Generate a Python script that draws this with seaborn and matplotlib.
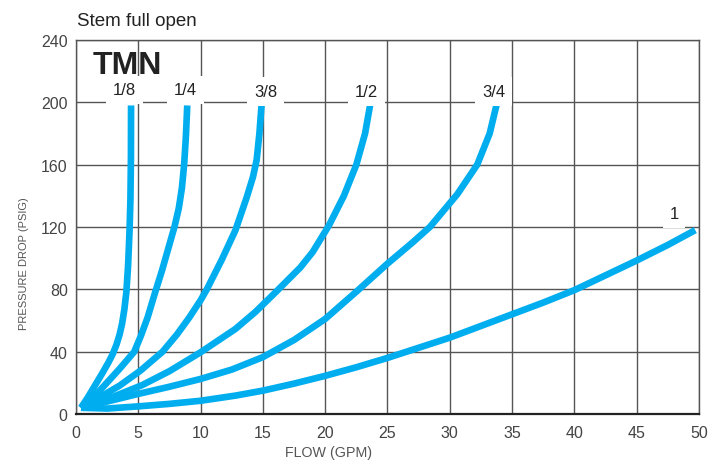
import matplotlib
matplotlib.use('Agg')
import matplotlib.pyplot as plt
import seaborn as sns
import pandas as pd

# valve sizes and their flow / pressure drop curves
sizes = ['1/8', '1/4', '3/8', '1/2', '3/4', '1']

flow_18 = [0.4, 0.9, 1.5, 2.1, 2.6, 2.95, 3.25, 3.5, 3.7, 3.88, 4.04, 4.18, 4.3, 4.37, 4.41, 4.42]
psi_18 = [4, 10, 18, 26, 33, 38.5, 44.5, 51, 58, 67, 78, 95, 118, 138, 165, 198]

flow_14 = [0.4, 1.2, 2.27, 3.5, 4.68, 5.2, 5.75, 6.35, 6.9, 7.4, 7.9, 8.25, 8.5, 8.68, 8.82, 8.93]
psi_14 = [4, 9, 18.2, 29, 40, 50, 62, 78, 92, 106, 120, 132, 145, 160, 178, 198]

flow_38 = [0.4, 1.5, 2.5, 3.5, 5.2, 6.95, 8.1, 9.1, 10.0, 10.5, 11.7, 12.8, 13.7,
           14.2, 14.5, 14.72, 14.9]
psi_38 = [4, 9, 13.5, 18.2, 28, 40, 51, 62, 73, 80, 99, 118, 139, 152, 163, 180, 199]

flow_12 = [0.4, 2.5, 5.3, 7.5, 10.0, 12.8, 14.4, 16.0, 18.0, 19.0, 20.3, 21.5, 22.5, 23.2, 23.6]
psi_12 = [4, 9.5, 18.5, 27.5, 39.6, 54.6, 65.5, 78, 94, 104, 121, 140, 160, 180, 198]

flow_34 = [0.4, 2.5, 5, 7.5, 10, 12.5, 15, 17.5, 20, 22.5, 25, 27, 28.4, 30.6, 32.2, 33.2, 33.8]
psi_34 = [4, 8, 12.9, 17.5, 22.5, 28.5, 36.5, 47.5, 61, 78.5, 96.5, 110, 120, 141, 160, 180, 200]

flow_1 = [0.4, 2.5, 5, 7.5, 10, 12.8, 15, 17.5, 20, 22.5, 25, 27.5, 30, 32.5, 35,
          37.5, 40, 42.5, 45, 47.5, 49.7]
psi_1 = [4, 3.5, 4.9, 6.5, 8.5, 11.8, 15, 19.5, 24.5, 30, 36, 42.5, 49, 56.5, 64,
         71.5, 79.5, 89, 98.5, 108.5, 118]

# label positions (data coords)
label_x = [3.9, 8.8, 15.2, 23.3, 33.5, 48.0]
label_y = [208, 208, 207, 207, 207, 128.5]

curves = [(flow_18, psi_18), (flow_14, psi_14), (flow_38, psi_38),
          (flow_12, psi_12), (flow_34, psi_34), (flow_1, psi_1)]
frames = []
for name, (fx, fy) in zip(sizes, curves):
    frames.append(pd.DataFrame({'flow': fx, 'psi': fy, 'size': name}))
df = pd.concat(frames, ignore_index=True)

sns.set_style('white')
plt.rcParams['font.family'] = ['Liberation Sans', 'DejaVu Sans']

cyan = '#00AEEF'
fig, ax = plt.subplots(figsize=(7.23, 4.64), dpi=100)
fig.subplots_adjust(left=0.1051, right=0.9668, top=0.9116, bottom=0.1056)

sns.lineplot(data=df, x='flow', y='psi', hue='size', palette=[cyan] * 6,
             sort=False, estimator=None, legend=False, lw=4.8, ax=ax,
             solid_capstyle='butt', solid_joinstyle='round', zorder=3)

ax.set_xlim(0, 50)
ax.set_ylim(0, 240)
ax.set_xticks(range(0, 51, 5))
ax.set_yticks(range(0, 241, 40))
ax.grid(True, color='#555555', lw=1)
ax.set_axisbelow(True)
for s in ['top', 'right', 'left']:
    ax.spines[s].set_color('#555555')
    ax.spines[s].set_linewidth(1)
ax.spines['bottom'].set_color('#222222')
ax.spines['bottom'].set_linewidth(1.6)
ax.tick_params(axis='x', length=0, pad=8, labelsize=11.5, labelcolor='#444444')
ax.tick_params(axis='y', length=3, pad=3, labelsize=11.5, labelcolor='#444444',
               color='#555555')

ax.set_xlabel('FLOW (GPM)', fontsize=10.3, color='#555555')
ax.xaxis.set_label_coords(0.406, -0.083)
ax.set_ylabel('PRESSURE DROP (PSIG)', fontsize=8, color='#555555')
ax.yaxis.set_label_coords(-0.075, 0.406)

for name, lx, ly in zip(sizes, label_x, label_y):
    ax.text(lx, ly, name, fontsize=12, color='#222222', ha='center', va='center',
            zorder=4, bbox=dict(boxstyle='square,pad=0.4', fc='white', ec='none'))

ax.text(0.027, 0.932, 'TMN', transform=ax.transAxes, fontsize=23,
        fontweight='bold', color='#222222', ha='left', va='center', zorder=4)

fig.text(77 / 723, 1 - 22 / 464, 'Stem full open', fontsize=13.5, color='#222222',
         ha='left', va='center')

fig.savefig('out.png', dpi=100)
